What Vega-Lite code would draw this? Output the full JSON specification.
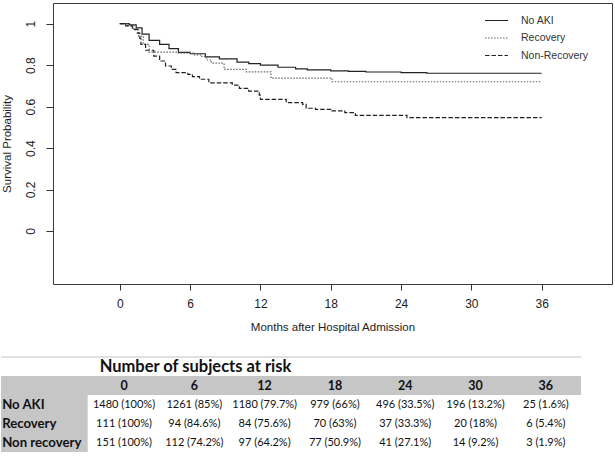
{
  "$schema": "https://vega.github.io/schema/vega-lite/v6.json",
  "padding": {"left": 0, "top": 2, "right": 0, "bottom": 0},
  "background": "white",
  "config": {
    "view": {"stroke": null},
    "font": "Liberation Sans",
    "axis": {"grid": false, "domain": false, "tickColor": "#333", "labelColor": "#222", "titleColor": "#222", "labelFont": "Liberation Sans", "titleFont": "Liberation Sans", "labelFontSize": 12, "titleFontSize": 11.5, "titleFontWeight": "normal"}
  },
  "datasets": {
    "km": [
      {"group": "No AKI", "month": 0, "surv": 1},
      {"group": "No AKI", "month": 0.8, "surv": 0.994},
      {"group": "No AKI", "month": 1.4, "surv": 0.98},
      {"group": "No AKI", "month": 1.9, "surv": 0.95},
      {"group": "No AKI", "month": 2.5, "surv": 0.92},
      {"group": "No AKI", "month": 3.4, "surv": 0.9},
      {"group": "No AKI", "month": 4.2, "surv": 0.88},
      {"group": "No AKI", "month": 5.0, "surv": 0.862},
      {"group": "No AKI", "month": 6.0, "surv": 0.855},
      {"group": "No AKI", "month": 7.3, "surv": 0.84},
      {"group": "No AKI", "month": 8.5, "surv": 0.83},
      {"group": "No AKI", "month": 10.0, "surv": 0.815},
      {"group": "No AKI", "month": 11.0, "surv": 0.807},
      {"group": "No AKI", "month": 12.0, "surv": 0.8},
      {"group": "No AKI", "month": 13.5, "surv": 0.79},
      {"group": "No AKI", "month": 15.0, "surv": 0.782},
      {"group": "No AKI", "month": 16.0, "surv": 0.777},
      {"group": "No AKI", "month": 18.0, "surv": 0.772},
      {"group": "No AKI", "month": 19.5, "surv": 0.77},
      {"group": "No AKI", "month": 21.0, "surv": 0.767},
      {"group": "No AKI", "month": 24.0, "surv": 0.764},
      {"group": "No AKI", "month": 26.2, "surv": 0.761},
      {"group": "No AKI", "month": 36.0, "surv": 0.761},
      {"group": "Recovery", "month": 0, "surv": 1},
      {"group": "Recovery", "month": 0.7, "surv": 0.99},
      {"group": "Recovery", "month": 1.2, "surv": 0.97},
      {"group": "Recovery", "month": 1.6, "surv": 0.94},
      {"group": "Recovery", "month": 2.0, "surv": 0.9},
      {"group": "Recovery", "month": 2.5, "surv": 0.863},
      {"group": "Recovery", "month": 5.0, "surv": 0.858},
      {"group": "Recovery", "month": 6.3, "surv": 0.85},
      {"group": "Recovery", "month": 7.0, "surv": 0.842},
      {"group": "Recovery", "month": 7.4, "surv": 0.825},
      {"group": "Recovery", "month": 7.8, "surv": 0.81},
      {"group": "Recovery", "month": 8.9, "surv": 0.78},
      {"group": "Recovery", "month": 10.8, "surv": 0.768},
      {"group": "Recovery", "month": 12.9, "surv": 0.737},
      {"group": "Recovery", "month": 18.1, "surv": 0.72},
      {"group": "Recovery", "month": 36.0, "surv": 0.72},
      {"group": "Non-Recovery", "month": 0, "surv": 1},
      {"group": "Non-Recovery", "month": 0.5, "surv": 0.99},
      {"group": "Non-Recovery", "month": 1.07, "surv": 0.973},
      {"group": "Non-Recovery", "month": 1.5, "surv": 0.955},
      {"group": "Non-Recovery", "month": 1.7, "surv": 0.93},
      {"group": "Non-Recovery", "month": 1.8, "surv": 0.9},
      {"group": "Non-Recovery", "month": 2.2, "surv": 0.872},
      {"group": "Non-Recovery", "month": 2.9, "surv": 0.844},
      {"group": "Non-Recovery", "month": 3.4, "surv": 0.82},
      {"group": "Non-Recovery", "month": 3.9, "surv": 0.796},
      {"group": "Non-Recovery", "month": 4.4, "surv": 0.78},
      {"group": "Non-Recovery", "month": 4.8, "surv": 0.764},
      {"group": "Non-Recovery", "month": 5.8, "surv": 0.756},
      {"group": "Non-Recovery", "month": 6.2, "surv": 0.745},
      {"group": "Non-Recovery", "month": 6.8, "surv": 0.732},
      {"group": "Non-Recovery", "month": 7.6, "surv": 0.715},
      {"group": "Non-Recovery", "month": 9.6, "surv": 0.704},
      {"group": "Non-Recovery", "month": 10.2, "surv": 0.688},
      {"group": "Non-Recovery", "month": 11.0, "surv": 0.675},
      {"group": "Non-Recovery", "month": 11.9, "surv": 0.655},
      {"group": "Non-Recovery", "month": 12.0, "surv": 0.635},
      {"group": "Non-Recovery", "month": 14.2, "surv": 0.619},
      {"group": "Non-Recovery", "month": 15.6, "surv": 0.611},
      {"group": "Non-Recovery", "month": 15.9, "surv": 0.592},
      {"group": "Non-Recovery", "month": 16.7, "surv": 0.587},
      {"group": "Non-Recovery", "month": 18.1, "surv": 0.579},
      {"group": "Non-Recovery", "month": 19.2, "surv": 0.571},
      {"group": "Non-Recovery", "month": 20.1, "surv": 0.558},
      {"group": "Non-Recovery", "month": 24.5, "surv": 0.547},
      {"group": "Non-Recovery", "month": 36.0, "surv": 0.547}
    ],
    "risk": [
      {"group": "No AKI", "month": 0, "n": "1480 (100%)"},
      {"group": "No AKI", "month": 6, "n": "1261 (85%)"},
      {"group": "No AKI", "month": 12, "n": "1180 (79.7%)"},
      {"group": "No AKI", "month": 18, "n": "979 (66%)"},
      {"group": "No AKI", "month": 24, "n": "496 (33.5%)"},
      {"group": "No AKI", "month": 30, "n": "196 (13.2%)"},
      {"group": "No AKI", "month": 36, "n": "25 (1.6%)"},
      {"group": "Recovery", "month": 0, "n": "111 (100%)"},
      {"group": "Recovery", "month": 6, "n": "94 (84.6%)"},
      {"group": "Recovery", "month": 12, "n": "84 (75.6%)"},
      {"group": "Recovery", "month": 18, "n": "70 (63%)"},
      {"group": "Recovery", "month": 24, "n": "37 (33.3%)"},
      {"group": "Recovery", "month": 30, "n": "20 (18%)"},
      {"group": "Recovery", "month": 36, "n": "6 (5.4%)"},
      {"group": "Non recovery", "month": 0, "n": "151 (100%)"},
      {"group": "Non recovery", "month": 6, "n": "112 (74.2%)"},
      {"group": "Non recovery", "month": 12, "n": "97 (64.2%)"},
      {"group": "Non recovery", "month": 18, "n": "77 (50.9%)"},
      {"group": "Non recovery", "month": 24, "n": "41 (27.1%)"},
      {"group": "Non recovery", "month": 30, "n": "14 (9.2%)"},
      {"group": "Non recovery", "month": 36, "n": "3 (1.9%)"}
    ],
    "cols": [
      {"month": 0}, {"month": 6}, {"month": 12}, {"month": 18}, {"month": 24}, {"month": 30}, {"month": 36}
    ],
    "groups": [
      {"group": "No AKI"}, {"group": "Recovery"}, {"group": "Non recovery"}
    ]
  },
  "columns": 1,
  "bounds": "full",
  "spacing": 23,
  "concat": [
    {
      "width": 559,
      "height": 281,
      "view": {"stroke": "#3a3a3a", "strokeWidth": 1},
      "data": {"name": "km"},
      "mark": {"type": "line", "interpolate": "step-after", "strokeWidth": 1.2},
      "encoding": {
        "x": {
          "field": "month", "type": "quantitative",
          "scale": {"domain": [-5.7, 42], "nice": false, "zero": false},
          "axis": {"values": [0, 6, 12, 18, 24, 30, 36], "title": "Months after Hospital Admission", "tickSize": 6, "labelPadding": 8, "titlePadding": 12, "labelFlush": false, "labelOverlap": false}
        },
        "y": {
          "field": "surv", "type": "quantitative",
          "scale": {"domain": [-0.256, 1.1], "nice": false, "zero": false},
          "axis": {"values": [0, 0.2, 0.4, 0.6, 0.8, 1], "format": "~g", "labelAngle": -90, "labelAlign": "center", "labelBaseline": "bottom", "tickSize": 7, "labelPadding": 9, "title": "Survival Probability", "titlePadding": 12}
        },
        "strokeDash": {
          "field": "group", "type": "nominal",
          "scale": {"domain": ["No AKI", "Recovery", "Non-Recovery"], "range": [[1, 0], [1.5, 1.5], [4.5, 2]]},
          "legend": {"title": null, "orient": "none", "legendX": 431, "legendY": 9, "symbolType": "stroke", "symbolSize": 529, "clipHeight": 17, "rowPadding": 0.5, "labelOffset": 12, "labelFont": "Liberation Sans", "labelFontSize": 10.5, "labelColor": "#333", "padding": 0, "symbolStrokeWidth": 1.2}
        },
        "color": {
          "field": "group", "type": "nominal",
          "scale": {"domain": ["No AKI", "Recovery", "Non-Recovery"], "range": ["#222222", "#666666", "#222222"]},
          "legend": {"title": null, "orient": "none", "legendX": 431, "legendY": 9, "symbolType": "stroke", "symbolSize": 529, "clipHeight": 17, "rowPadding": 0.5, "labelOffset": 12, "labelFont": "Liberation Sans", "labelFontSize": 10.5, "labelColor": "#333", "padding": 0, "symbolStrokeWidth": 1.2}
        }
      }
    },
    {
      "width": 528,
      "height": 95,
      "layer": [
        {
          "data": {"values": [{"row": "header"}]},
          "mark": {"type": "rect", "color": "#c6c6c6"},
          "encoding": {
            "y": {"field": "row", "type": "nominal", "scale": {"domain": ["title", "header", "No AKI", "Recovery", "Non recovery"], "paddingInner": 0, "paddingOuter": 0}, "axis": null},
            "x": {"datum": -10.5, "type": "quantitative", "scale": {"domain": [-6.06, 39], "nice": false, "zero": false}, "axis": null},
            "x2": {"datum": 39}
          }
        },
        {
          "data": {"name": "groups"},
          "mark": {"type": "rect", "color": "#c6c6c6"},
          "encoding": {
            "y": {"field": "group", "type": "nominal", "axis": null},
            "x": {"datum": -10.5, "type": "quantitative", "axis": null},
            "x2": {"datum": -3.1}
          }
        },
        {
          "data": {"values": [{"row": "title"}]},
          "mark": {"type": "rule", "color": "#c4c4c4", "strokeWidth": 1.2},
          "encoding": {
            "y": {"field": "row", "type": "nominal", "bandPosition": 0, "axis": null},
            "x": {"datum": -10.5, "type": "quantitative", "axis": null},
            "x2": {"datum": 39}
          }
        },
        {
          "data": {"values": [{"row": "title", "label": "Number of subjects at risk"}]},
          "mark": {"type": "text", "font": "Lato", "fontWeight": "bold", "fontSize": 16.5, "color": "#111", "align": "center", "baseline": "middle"},
          "encoding": {
            "y": {"field": "row", "type": "nominal", "axis": null},
            "x": {"datum": 6.1, "type": "quantitative", "axis": null},
            "text": {"field": "label"}
          }
        },
        {
          "data": {"name": "cols"},
          "mark": {"type": "text", "font": "Lato", "fontWeight": "bold", "fontSize": 12.5, "color": "#111", "align": "center", "baseline": "middle"},
          "encoding": {
            "y": {"datum": "header", "type": "nominal", "axis": null},
            "x": {"field": "month", "type": "quantitative", "axis": null},
            "text": {"field": "month", "type": "quantitative"}
          }
        },
        {
          "data": {"name": "groups"},
          "mark": {"type": "text", "font": "Lato", "fontWeight": "bold", "fontSize": 13.2, "color": "#111", "align": "left", "baseline": "middle"},
          "encoding": {
            "y": {"field": "group", "type": "nominal", "axis": null},
            "x": {"datum": -10.4, "type": "quantitative", "axis": null},
            "text": {"field": "group"}
          }
        },
        {
          "data": {"name": "risk"},
          "mark": {"type": "text", "font": "Lato", "fontSize": 11, "color": "#111", "align": "center", "baseline": "middle"},
          "encoding": {
            "y": {"field": "group", "type": "nominal", "axis": null},
            "x": {"field": "month", "type": "quantitative", "axis": null},
            "text": {"field": "n"}
          }
        }
      ]
    }
  ]
}
